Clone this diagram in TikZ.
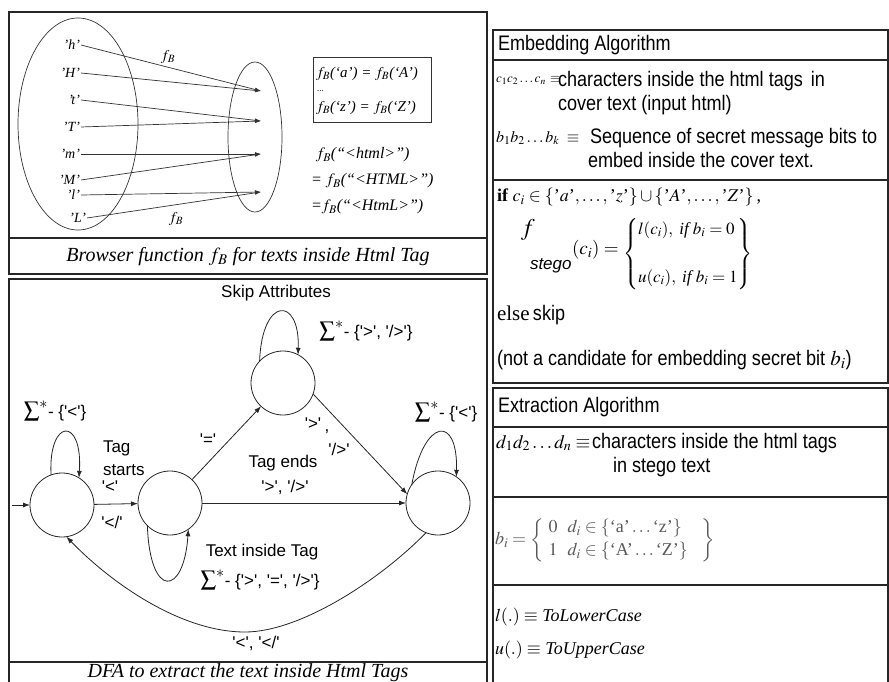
\documentclass[tikz,border=0pt]{standalone}
\usepackage{mathptmx}
\usepackage[no-math]{fontspec}
\setmainfont{Liberation Serif}
\setsansfont{Liberation Sans}
\newfontfamily\narrowsf[FakeStretch=0.86]{Liberation Sans}
\usetikzlibrary{arrows.meta}
\newcommand\sq{\textquotesingle}
\newcommand\bigsum{{\fontsize{22}{22}\selectfont$\sum^{*}$}}
\begin{document}
\begin{tikzpicture}[x=1pt,y=-1pt,
  every node/.style={inner sep=0pt, outer sep=0pt},
  frame/.style={draw=black!85, line width=1.1pt},
  thinline/.style={draw=black!80, line width=0.7pt},
  arr/.style={draw=black!85, line width=0.8pt, -{Latex[length=7pt,width=5pt]}},
  sarr/.style={draw=black!80, line width=0.7pt, -{Latex[length=6pt,width=4pt]}},
  chr/.style={font=\fontsize{14}{16}\selectfont\itshape, anchor=east},
  captext/.style={font=\fontsize{20}{22}\selectfont\itshape},
  ser/.style={font=\fontsize{15}{17}\selectfont\itshape},
  serb/.style={font=\fontsize{16}{18}\selectfont\itshape, anchor=west},
  dfa/.style={font=\sffamily\fontsize{17}{19}\selectfont},
  state/.style={circle, draw=black!85, line width=0.8pt, minimum size=64pt},
  hd/.style={font=\narrowsf\fontsize{21}{23}\selectfont, anchor=west},
  body/.style={font=\narrowsf\fontsize{21}{24}\selectfont, anchor=west},
  mth/.style={font=\fontsize{#1}{#1}\selectfont, anchor=west},
]
\useasboundingbox (0,0) rectangle (889,682);
\fill[white] (0,0) rectangle (889,682);

% ---------------- top-left panel ----------------
\draw[frame] (9,12) rectangle (487,274);
\draw[frame] (9,238) -- (487,238);
\node[captext] (capA) at (248,257) {Browser function $f_B$ for texts inside Html Tag};

\draw[thinline] (78,124) ellipse [x radius=60, y radius=106];
\draw[thinline] (255,137) ellipse [x radius=27, y radius=75];

\node[chr] (lh) at (80,45) {'h'};
\node[chr] (lH) at (80,73) {'H'};
\node[chr] (lt) at (80,100) {'t'};
\node[chr] (lT) at (80,127) {'T'};
\node[chr] (lm) at (80,154) {'m'};
\node[chr] (lM) at (80,180) {'M'};
\node[chr] (ll) at (80,195) {'l'};
\node[chr] (lL) at (86,218) {'L'};

\coordinate (g1) at (261,91);
\coordinate (g2) at (261,121);
\coordinate (g3) at (261,154);
\coordinate (g4) at (261,192);
\draw[sarr] ([xshift=1pt]lh.east) -- (g1);
\draw[sarr] ([xshift=1pt]lH.east) -- (g1);
\draw[sarr] ([xshift=1pt]lt.east) -- (g2);
\draw[sarr] ([xshift=1pt]lT.east) -- (g2);
\draw[sarr] ([xshift=1pt]lm.east) -- (g3);
\draw[sarr] ([xshift=1pt]lM.east) -- (g3);
\draw[sarr] ([xshift=1pt]ll.east) -- (g4);
\draw[sarr] ([xshift=1pt]lL.east) -- (g4);

\node[ser] (fb1) at (168,57) {$f_B$};
\node[ser] (fb2) at (176,219) {$f_B$};

\draw[thinline] (313,57) rectangle (431,122);
\node[ser, anchor=west] (eq1) at (316,74) {$f_B$(`a') = $f_B$(`A')};
\node[font=\fontsize{9}{9}\selectfont, anchor=west] (eq2) at (317,91) {...};
\node[ser, anchor=west] (eq3) at (316,108) {$f_B$(`z') = $f_B$(`Z')};

\node[serb] (h1) at (316,155) {$f_B$(``<html>'')};
\node[serb] (h2) at (311,181) {= $f_B$(``<HTML>'')};
\node[serb] (h3) at (311,207) {=$f_B$(``<HtmL>'')};

% ---------------- DFA panel ----------------
\draw[frame] (9,279) rectangle (487,700);
\draw[frame] (9,662) -- (487,662);
\node[captext] (capB) at (248,673) {DFA to extract the text inside Html Tags};

\node[state] (q0) at (62,505) {};
\node[state] (q1) at (170,503) {};
\node[state] (q2) at (283,383) {};
\node[state] (q3) at (438,503) {};

\coordinate (s) at (12,505);
\draw[arr] (s) -- (q0);
\draw[arr] (q0) -- (q1);
\draw[arr] (q1) -- (q2);
\draw[arr] (q2.-20) -- (q3.164);
\draw[arr] (q1) -- (q3);
\draw[arr] (q3.-112) .. controls (380,580) and (300,632) .. (245,632)
                     .. controls (180,632) and (110,582) .. (q0.-82);
\draw[arr] (q1.-135) .. controls (150,600) and (184,596) .. (q1.-55);
\draw[arr] (q2.137) .. controls (262,296) and (300,296) .. (q2.62);
\draw[arr] (q0.110) .. controls (48,418) and (83,416) .. (q0.58);
\draw[arr] (q3.145) .. controls (424,418) and (458,414) .. (q3.55);

\node[dfa] (skip) at (276,293) {Skip Attributes};
\node[dfa] (lpA) at (366,331) {\bigsum- \{\sq>\sq, \sq/>\sq\}};
\node[dfa] (lp0) at (55,411) {\bigsum- \{\sq<\sq\}};
\node[dfa] (lp3) at (446,412) {\bigsum- \{\sq<\sq\}};
\node[dfa, anchor=west] (tg1) at (103,448) {Tag};
\node[dfa, anchor=west] (tg2) at (103,470) {starts};
\node[dfa] (lt1) at (110,487) {\sq<\sq};
\node[dfa] (lt2) at (112,522) {\sq</\sq};
\node[dfa] (leq) at (208,440) {\sq=\sq};
\node[dfa] (gt1) at (313,424) {\sq>\sq};
\node[dfa] (gtc) at (327,432) {,};
\node[dfa] (gt2) at (339,449) {\sq/>\sq};
\node[dfa] (te1) at (283,463) {Tag ends};
\node[dfa] (te2) at (285,487) {\sq>\sq, \sq/>\sq};
\node[dfa] (ti1) at (262,552) {Text inside Tag};
\node[dfa] (ti2) at (260,580) {\bigsum- \{\sq>\sq, \sq=\sq, \sq/>\sq\}};
\node[dfa] (bk) at (256,643) {\sq<\sq, \sq</\sq};

% ---------------- right panels ----------------
\draw[frame] (493,30) rectangle (888,383);
\draw[frame] (493,60) -- (888,60);
\draw[frame] (493,180) -- (888,180);
\node[hd] (embh) at (498,45) {Embedding Algorithm};

\node[mth=13] (cm) at (496,81) {$c_1c_2\ldots c_n\,\equiv$};
\node[body] (ct1) at (558,81) {characters inside the html tags\hspace{8pt}in};
\node[body] (ct2) at (558,105) {cover text (input html)};
\node[mth=16] (bm) at (496,138) {$b_1b_2\ldots b_k\ \equiv$};
\node[body] (bt1) at (590,138) {Sequence of secret message bits to};
\node[body] (bt2) at (588,160) {embed inside the cover text.};

\node[mth=18] (ifl) at (497,197) {\textbf{if} $c_i\in\{\mbox{'}a\mbox{'},\ldots,\mbox{'}z\mbox{'}\}\cup\{\mbox{'}A\mbox{'},\ldots,\mbox{'}Z\mbox{'}\}$\,,};
\node[mth=24] (fst) at (521,230) {$f$};
\node[font=\sffamily\itshape\fontsize{17}{17}\selectfont, anchor=west] (fsb) at (530,266) {stego};
\node[mth=19] (fca) at (572,250) {$(c_i) =$};
\node[font=\fontsize{17}{20}\selectfont, anchor=west] (fbr) at (623,254)
  {$\left\{\begin{array}{@{}l@{}} l(c_i),\ \mbox{\itshape if}\ b_i = 0\\[28pt] u(c_i),\ \mbox{\itshape if}\ b_i = 1\end{array}\right\}$};
\node[anchor=west] (els) at (497,315) {{\fontsize{21}{22}\selectfont else}\,\,{\narrowsf\fontsize{21}{22}\selectfont skip}};
\node[body] (ncd) at (497,360) {(not a candidate for embedding secret bit $b_i$)};

\draw[frame] (493,388) rectangle (888,700);
\draw[frame] (493,427) -- (888,427);
\draw[frame] (493,497) -- (888,497);
\draw[frame] (493,585) -- (888,585);
\node[hd] (exh) at (498,407) {Extraction Algorithm};
\node[mth=19] (dm) at (496,443) {$d_1d_2\ldots d_n\equiv$};
\node[body] (dt1) at (592,443) {characters inside the html tags};
\node[body] (dt2) at (613,467) {in stego text};
\node[mth=18, text=black!65] (bif) at (495,540)
  {$b_i = \left\{\begin{array}{ll} 0 & d_i\in\{\mbox{`a'}\ldots\mbox{`z'}\}\\[4pt] 1 & d_i\in\{\mbox{`A'}\ldots\mbox{`Z'}\}\end{array}\enspace\right\}$};
\node[mth=18] (lcs) at (495,617) {$l(.)\equiv$ \textit{ToLowerCase}};
\node[mth=18] (ucs) at (495,650) {$u(.)\equiv$ \textit{ToUpperCase}};
\end{tikzpicture}
\end{document}
